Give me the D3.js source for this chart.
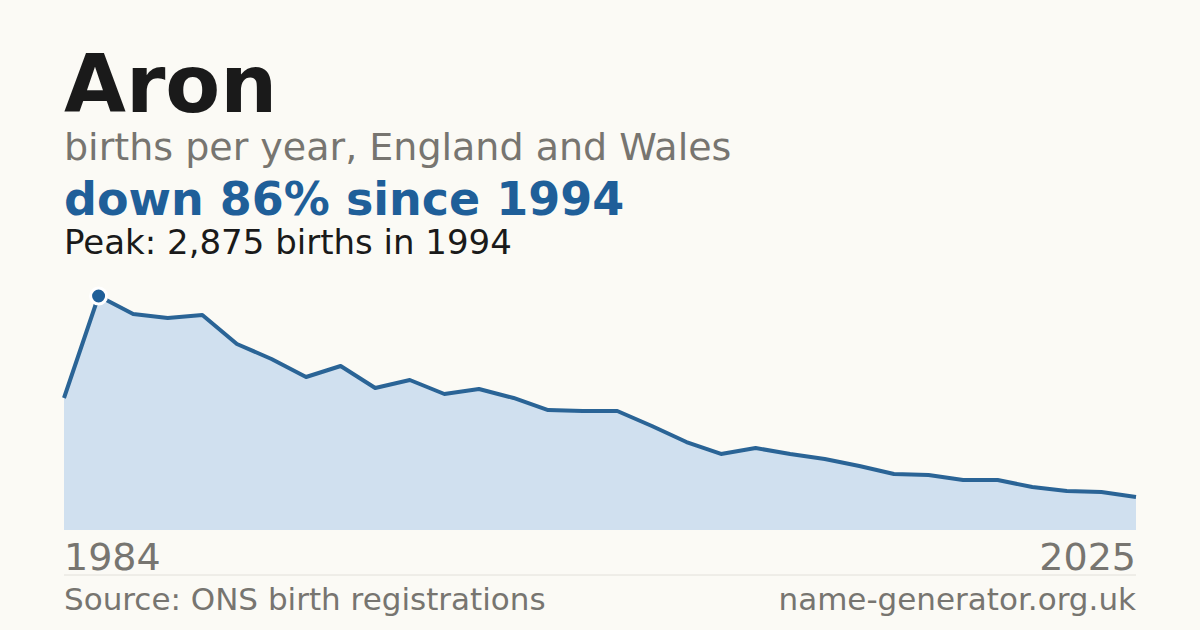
<!DOCTYPE html>
<html><head><meta charset="utf-8">
<script src="https://cdn.jsdelivr.net/npm/d3@7"></script>
<style>body{margin:0;background:#fbfaf5;}svg{display:block;font-family:'DejaVu Sans',sans-serif;}</style>
</head><body>
<script>
const years = [1984].concat(d3.range(1994, 2024), [2025]);
const births = [1622, 2875, 2654, 2604, 2641, 2285, 2101, 1880, 2015, 1744, 1843, 1671, 1732, 1622, 1474, 1462,
  1462, 1278, 1081, 934, 1007, 934, 872, 786, 688, 676, 614, 614, 528, 479, 467, 405];
const peakYear = 1994;
const data = years.map((y, i) => ({year: y, value: births[i]}));

const W = 1200, H = 630;
const svg = d3.select('body').append('svg').attr('width', W).attr('height', H);
svg.append('rect').attr('width', W).attr('height', H).attr('fill', '#fbfaf5');

const x = d3.scalePoint().domain(years).range([64, 1136]);
const y = d3.scaleLinear().domain([0, 2875]).range([530, 296]);

svg.append('path').datum(data)
    .attr('d', d3.area().x(d => x(d.year)).y0(530).y1(d => y(d.value)))
    .attr('fill', '#d0e0ef');
svg.append('path').datum(data)
    .attr('d', d3.line().x(d => x(d.year)).y(d => y(d.value)))
    .attr('fill', 'none').attr('stroke', '#2a6496').attr('stroke-width', 4).attr('stroke-linejoin', 'round');
const peak = data.find(d => d.year === peakYear);
svg.append('circle').attr('cx', x(peak.year)).attr('cy', y(peak.value)).attr('r', 8)
    .attr('fill', '#1f5f99').attr('stroke', '#fff').attr('stroke-width', 3);

const txt = (t, px, py, size, fill, weight, anchor) => svg.append('text').text(t)
    .attr('x', px).attr('y', py).attr('font-size', size).attr('fill', fill)
    .attr('font-weight', weight || 'normal').attr('text-anchor', anchor || 'start');

txt('Aron', 64, 112, 80, '#1a1a1a', 'bold');
txt('births per year, England and Wales', 64, 160, 38, '#777570');
txt('down 86% since 1994', 64, 215, 46, '#1f5f99', 'bold');
txt('Peak: 2,875 births in 1994', 64, 254, 34, '#1a1a1a');
txt('1984', 64, 570, 38, '#777570');
txt('2025', 1136, 570, 38, '#777570', 'normal', 'end');
svg.append('line').attr('x1', 64).attr('x2', 1136).attr('y1', 575).attr('y2', 575).attr('stroke', '#e2e0da');
txt('Source: ONS birth registrations', 64, 610, 31, '#777570');
txt('name-generator.org.uk', 1136, 610, 31, '#777570', 'normal', 'end');
</script>
</body></html>
